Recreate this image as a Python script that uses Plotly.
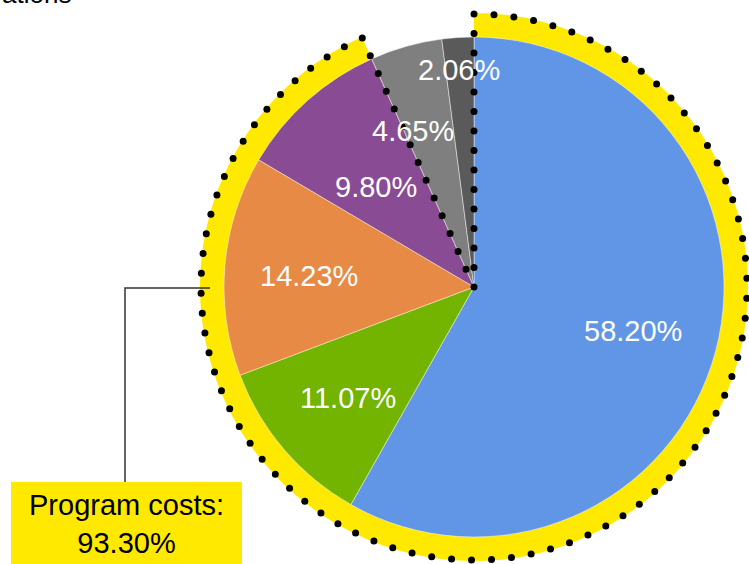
import math
import plotly.graph_objects as go

# ---- data ----
categories = ["Program A", "Program B", "Program C", "Program D", "Management", "Fundraising"]
values = [58.20, 11.07, 14.23, 9.80, 4.65, 2.06]
is_program = [True, True, True, True, False, False]
program_caption = "Program costs:"
title_text = "ations"

# ---- style ----
colors = ["#6196E6", "#72B400", "#E68A46", "#894B94", "#7F7F7F", "#5A5A5A"]
YELLOW = "#FFE900"
W, H = 749, 564
CX, CY = 474, 287          # pie centre (px)
R_PIE = 250                 # pie radius (px)
R_BAND = 274                # yellow band radius (px)
R_DOTS = 273
DOT_GAP = 20
DOT_R = 3.5
label_r = [0.66, 0.67, 0.66, 0.56, 0.67, 0.87]
label_dtheta = [0.7, -0.8, -1.0, -2.6, -5.4, -0.3]
FONT = "Liberation Sans, Arial"


def px(x):
    return x / W


def py(y):
    return 1 - y / H


def dom(r):
    return dict(x=[px(CX - r), px(CX + r)], y=[py(CY + r), py(CY - r)])


total = sum(values)
prog_total = sum(v for v, p in zip(values, is_program) if p)
prog_frac = prog_total / total

fig = go.Figure()
# yellow band behind program slices
fig.add_trace(go.Pie(
    values=[prog_total, total - prog_total],
    labels=["Program costs", "Other"],
    marker=dict(colors=[YELLOW, "rgba(0,0,0,0)"], line=dict(width=0)),
    sort=False, direction="clockwise", rotation=0,
    textinfo="none", hoverinfo="skip", showlegend=False,
    domain=dom(R_BAND),
))
fig.add_trace(go.Pie(
    values=values, labels=categories,
    marker=dict(colors=colors, line=dict(color="rgba(255,255,255,0.45)", width=1)),
    sort=False, direction="clockwise", rotation=0,
    textinfo="none", showlegend=False,
    domain=dom(R_PIE),
))


def polar(r, deg):
    t = math.radians(deg)
    return CX + r * math.sin(t), CY - r * math.cos(t)


shapes = []
annotations = []

# dotted outline of the program-cost sector
end_deg = prog_frac * 360
pts = []
n = max(1, round(R_DOTS / DOT_GAP))
for i in range(n + 1):
    pts.append(polar(R_DOTS * i / n, 0))
arc_len = math.radians(end_deg) * R_DOTS
n = max(1, round(arc_len / DOT_GAP))
for i in range(1, n + 1):
    pts.append(polar(R_DOTS, end_deg * i / n))
n = max(1, round(R_DOTS / DOT_GAP))
for i in range(n - 1, 0, -1):
    pts.append(polar(R_DOTS * i / n, end_deg))
for (x, y) in pts:
    shapes.append(dict(type="circle", xref="paper", yref="paper", layer="above",
                       x0=px(x - DOT_R), x1=px(x + DOT_R), y0=py(y + DOT_R), y1=py(y - DOT_R),
                       fillcolor="black", line=dict(width=0)))

# percentage labels
cum = 0
for v, rf, dt in zip(values, label_r, label_dtheta):
    mid = (cum + v / 2) / total * 360
    cum += v
    x, y = polar(R_PIE * rf, mid + dt)
    annotations.append(dict(x=px(x), y=py(y), xref="paper", yref="paper", showarrow=False,
                            xanchor="center", yanchor="middle",
                            text=f"{v:.2f}%",
                            font=dict(family=FONT, size=29, color="white")))

# callout
shapes.append(dict(type="path", xref="paper", yref="paper", layer="above",
                   path=f"M {px(210)},{py(288)} L {px(125)},{py(288)} L {px(125)},{py(482)}",
                   line=dict(color="#333333", width=1.5)))
shapes.append(dict(type="rect", xref="paper", yref="paper", layer="above",
                   x0=px(11), x1=px(242), y0=py(564), y1=py(482),
                   fillcolor=YELLOW, line=dict(width=0)))
annotations.append(dict(x=px(126.5), y=py(524), xref="paper", yref="paper", showarrow=False,
                        xanchor="center", yanchor="middle",
                        text=f"{program_caption}<br>{prog_total:.2f}%",
                        font=dict(family=FONT, size=29, color="black")))

# clipped title (only its lower edge is visible in the reference)
annotations.append(dict(x=0, y=py(11), xref="paper", yref="paper", showarrow=False,
                        xanchor="left", yanchor="bottom", text=title_text,
                        font=dict(family=FONT, size=26, color="black")))

fig.update_layout(
    width=W, height=H,
    margin=dict(l=0, r=0, t=0, b=0),
    paper_bgcolor="white", plot_bgcolor="white",
    shapes=shapes, annotations=annotations,
    showlegend=False,
)

fig.write_html("out.html", config={"displayModeBar": False},
               post_script="document.body.style.margin='0px';document.body.style.overflow='hidden';")
